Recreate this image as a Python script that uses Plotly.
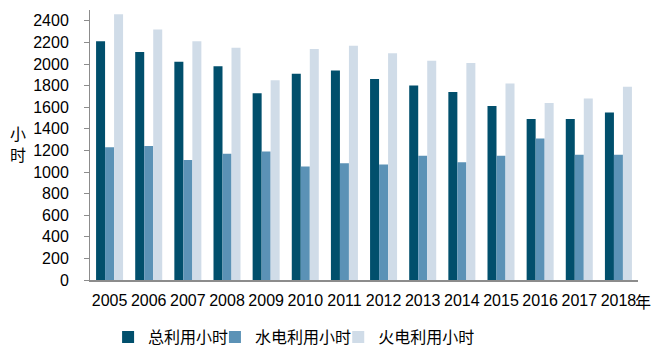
import plotly.graph_objects as go

years = ["2005", "2006", "2007", "2008", "2009", "2010", "2011", "2012",
         "2013", "2014", "2015", "2016", "2017", "2018"]
total_hours = [2210, 2110, 2020, 1980, 1730, 1910, 1940, 1860, 1800, 1740, 1610, 1490, 1490, 1550]
hydro_hours = [1230, 1240, 1110, 1170, 1190, 1050, 1080, 1070, 1150, 1090, 1150, 1310, 1160, 1160]
thermal_hours = [2460, 2320, 2210, 2150, 1850, 2140, 2170, 2100, 2030, 2010, 1820, 1640, 1680, 1790]
series_names = ["总利用小时", "水电利用小时", "火电利用小时"]
y_ticks = list(range(0, 2401, 200))

FONT = "Liberation Sans, Noto Sans CJK SC, sans-serif"
colors = ["#014f6c", "#5b92b6", "#d0dce8"]
legend_ids = ["legend", "legend2", "legend3"]
legend_x = [0.033, 0.228, 0.453]

fig = go.Figure()
for name, vals, col, lg in zip(series_names, [total_hours, hydro_hours, thermal_hours], colors, legend_ids):
    fig.add_trace(go.Bar(x=years, y=vals, name=name, legend=lg,
                         marker=dict(color=col, line=dict(width=0))))

legend_common = dict(orientation="h", xanchor="left", yref="container", y=0.057,
                     yanchor="middle", font=dict(size=16), itemwidth=30,
                     bgcolor="rgba(0,0,0,0)")

fig.update_layout(
    width=657, height=349,
    margin=dict(l=82, r=27, t=2, b=77, autoexpand=False),
    paper_bgcolor="white", plot_bgcolor="white",
    barmode="group", bargap=0.31, bargroupgap=0,
    font=dict(family=FONT, size=16, color="#000000"),
    showlegend=True,
    legend=dict(x=legend_x[0], **legend_common),
    legend2=dict(x=legend_x[1], **legend_common),
    legend3=dict(x=legend_x[2], **legend_common),
    xaxis=dict(showline=True, linecolor="#8c8c8c", linewidth=1.5, ticks="",
               tickfont=dict(size=16), showgrid=False, ticklabelstandoff=5,
               automargin=False),
    yaxis=dict(range=[0, 2500], tickvals=y_ticks, showline=True, linecolor="#8c8c8c",
               linewidth=1, ticks="outside", ticklen=5, tickcolor="#8c8c8c",
               showgrid=False, zeroline=False, tickfont=dict(size=16), automargin=False,
               ticklabelstandoff=12),
    annotations=[
        dict(text="小<br>时", xref="paper", yref="paper", x=-0.131, y=0.5,
             xanchor="center", yanchor="middle", showarrow=False, font=dict(size=16)),
        dict(text="年", xref="paper", yref="paper", x=0.99, y=-0.045,
             xanchor="left", yanchor="top", showarrow=False, font=dict(size=16)),
    ],
)

fig.write_html("out.html")
